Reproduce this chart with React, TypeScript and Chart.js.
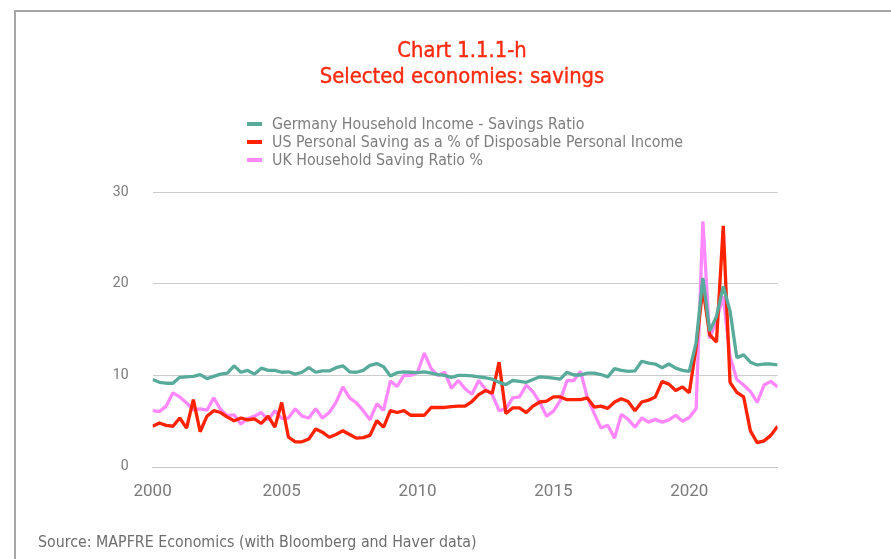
import React, { useEffect, useRef } from 'react';
import { Chart, registerables } from 'chart.js';

Chart.register(...registerables);

// ---------- DATA ----------
const titleLines = ['Chart 1.1.1-h', 'Selected economies: savings'];
const sourceText = 'Source: MAPFRE Economics (with Bloomberg and Haver data)';
const seriesNames = [
  'Germany Household Income - Savings Ratio',
  'US Personal Saving as a % of Disposable Personal Income',
  'UK Household Saving Ratio %',
];
const seriesColors = ['#58ab9b', '#ff2200', '#ff88ff'];

// quarterly periods 2000 Q1 .. 2023 Q1 (quarter-end dates)
const firstYear = 2000;
const lastYear = 2023;
const lastQuarter = 1;
const periods: { year: number; q: number }[] = [];
for (let y = firstYear; y <= lastYear; y++) {
  for (let q = 1; q <= 4; q++) {
    if (y === lastYear && q > lastQuarter) break;
    periods.push({ year: y, q });
  }
}

const germany = [
  9.5, 9.2, 9.1, 9.1, 9.75, 9.8, 9.85, 10.05, 9.6, 9.85, 10.1, 10.2, 11.0, 10.3, 10.5, 10.1, 10.75, 10.5, 10.5, 10.3, 10.35, 10.1, 10.3, 10.8,
  10.3, 10.45, 10.45, 10.8, 11.0, 10.35, 10.3, 10.5, 11.05, 11.25, 10.9, 9.9, 10.25, 10.35, 10.3, 10.25, 10.35, 10.2, 10.05, 9.95, 9.75, 9.95, 9.95,
  9.9, 9.8, 9.7, 9.55, 9.2, 8.95, 9.4, 9.3, 9.2, 9.5, 9.8, 9.75, 9.65, 9.55, 10.3, 10.0, 10.0, 10.2, 10.2, 10.05, 9.8, 10.7, 10.5,
  10.4, 10.45, 11.5, 11.3, 11.2, 10.8, 11.2, 10.75, 10.5, 10.4, 13.5, 20.6, 14.8, 16.4, 19.7, 17.0, 11.9, 12.2, 11.4, 11.1, 11.2, 11.2, 11.1,
];

const us = [
  4.4, 4.75, 4.5, 4.4, 5.3, 4.2, 7.3, 3.8, 5.5, 6.1, 5.9, 5.4, 5.0, 5.3, 5.1, 5.2, 4.7, 5.5, 4.3, 7.0, 3.2, 2.7, 2.7, 3.0,
  4.1, 3.75, 3.2, 3.5, 3.9, 3.5, 3.1, 3.15, 3.4, 5.0, 4.3, 6.1, 5.9, 6.1, 5.6, 5.6, 5.6, 6.45, 6.45, 6.45, 6.55, 6.6, 6.6,
  7.1, 7.85, 8.3, 8.0, 11.4, 5.8, 6.4, 6.4, 5.9, 6.6, 7.05, 7.15, 7.6, 7.6, 7.3, 7.3, 7.3, 7.5, 6.5, 6.6, 6.35, 7.05, 7.4,
  7.1, 6.1, 7.05, 7.25, 7.6, 9.3, 9.0, 8.3, 8.7, 8.05, 13.0, 19.5, 14.4, 13.6, 26.3, 9.2, 8.1, 7.6, 3.9, 2.6, 2.8, 3.4, 4.4,
];

const uk = [
  6.1, 6.0, 6.6, 8.05, 7.6, 6.95, 6.2, 6.3, 6.15, 7.5, 6.25, 5.55, 5.65, 4.65, 5.25, 5.5, 5.9, 5.1, 6.1, 5.25, 5.3, 6.3, 5.5, 5.3,
  6.3, 5.3, 5.9, 7.0, 8.7, 7.5, 6.95, 6.1, 5.1, 6.85, 6.15, 9.35, 8.75, 9.95, 9.95, 10.3, 12.4, 10.7, 9.95, 10.3, 8.55, 9.4, 8.5,
  7.9, 9.4, 8.45, 7.85, 6.1, 6.3, 7.5, 7.6, 8.9, 8.15, 7.0, 5.5, 6.05, 7.2, 9.4, 9.4, 10.4, 7.5, 5.8, 4.2, 4.5, 3.1, 5.7,
  5.15, 4.3, 5.3, 4.85, 5.15, 4.85, 5.1, 5.6, 4.95, 5.35, 6.3, 26.8, 14.0, 16.0, 18.6, 12.0, 9.5, 8.9, 8.2, 7.0, 8.9, 9.3, 8.7,
];

const xTickYears = [2000, 2005, 2010, 2015, 2020];
const yTicks = [0, 10, 20, 30];

// ---------- CHART ----------
const W = 891;
const H = 559;
const TEXT_FONT = '"DejaVu Sans Condensed", "DejaVu Sans", sans-serif';
const AXIS_FONT = 'Roboto, "DejaVu Sans", sans-serif';

const xValues = periods.map((p) => p.year + p.q / 4);
const xMin = xValues[0];
const xMax = xValues[xValues.length - 1];

const zeroLinePlugin = {
  id: 'zeroLine',
  beforeDatasetsDraw(chart: any) {
    const { ctx, chartArea, scales } = chart;
    const y = Math.round(scales.y.getPixelForValue(yTicks[0])) + 0.5;
    ctx.save();
    ctx.strokeStyle = '#8c8c8c';
    ctx.lineWidth = 1;
    ctx.setLineDash([1, 1]);
    ctx.beginPath();
    ctx.moveTo(chartArea.left, y);
    ctx.lineTo(chartArea.right, y);
    ctx.stroke();
    ctx.restore();
  },
};

function SavingsChart() {
  const ref = useRef<HTMLCanvasElement | null>(null);
  useEffect(() => {
    if (!ref.current) return;
    const series = [germany, us, uk];
    const chart = new Chart(ref.current, {
      type: 'line',
      data: {
        datasets: series.map((vals, i) => ({
          label: seriesNames[i],
          data: vals.map((v, j) => ({ x: xValues[j], y: v })),
          borderColor: seriesColors[i],
          backgroundColor: seriesColors[i],
          borderWidth: 3.3,
          pointRadius: 0,
          tension: 0,
          borderJoinStyle: 'bevel' as const,
          fill: false,
        })),
      },
      options: {
        animation: false,
        responsive: false,
        devicePixelRatio: 1,
        layout: { padding: { left: 100, right: 113.4, top: 192, bottom: 40 } },
        plugins: {
          legend: { display: false },
          title: { display: false },
          tooltip: { enabled: false },
        },
        scales: {
          x: {
            type: 'linear',
            min: xMin,
            max: xMax,
            grid: { display: false },
            border: { display: false },
            afterBuildTicks: (scale: any) => {
              scale.ticks = xTickYears.map((y) => ({ value: Math.max(y, xMin) }));
            },
            afterFit: (scale: any) => {
              scale.height = 52.5;
            },
            ticks: {
              autoSkip: false,
              maxRotation: 0,
              minRotation: 0,
              padding: 7,
              color: '#7a7a7a',
              font: { family: AXIS_FONT, size: 17 },
              callback: (v: any) => String(Math.floor(Number(v))),
            },
          },
          y: {
            min: yTicks[0],
            max: yTicks[yTicks.length - 1],
            afterBuildTicks: (scale: any) => {
              scale.ticks = yTicks.map((v) => ({ value: v }));
            },
            afterFit: (scale: any) => {
              scale.width = 52.6;
            },
            ticks: {
              padding: 24,
              color: '#7a7a7a',
              font: { family: AXIS_FONT, size: 14 },
            },
            grid: {
              color: (c: any) => (c.tick && c.tick.value === 0 ? 'rgba(0,0,0,0)' : '#cccccc'),
              lineWidth: 1,
              drawTicks: false,
              tickLength: 0,
            },
            border: { display: false },
          },
        },
      },
      plugins: [zeroLinePlugin],
    } as any);
    return () => chart.destroy();
  }, []);
  return (
    <canvas
      ref={ref}
      width={W}
      height={H}
      style={{ position: 'absolute', left: 0, top: 0, width: W, height: H, display: 'block' }}
    />
  );
}

export default function App() {
  const legendRows = [123.5, 141.8, 160];
  return (
    <div
      style={{
        position: 'fixed',
        left: 0,
        top: 0,
        width: W,
        height: H,
        background: '#ffffff',
        overflow: 'hidden',
      }}
    >
      {/* frame */}
      <div
        style={{
          position: 'absolute',
          left: 14,
          top: 10,
          width: W,
          height: H,
          borderTop: '2px solid #a6a6a6',
          borderLeft: '2px solid #a6a6a6',
        }}
      />
      <SavingsChart />
      {/* title */}
      {titleLines.map((t, i) => (
        <div
          key={t}
          style={{
            position: 'absolute',
            left: 262,
            width: 400,
            top: (i === 0 ? 50 : 76) - 13,
            height: 26,
            lineHeight: '26px',
            textAlign: 'center',
            color: '#ff2a10',
            fontFamily: TEXT_FONT,
            fontSize: 21.8,
            WebkitTextStroke: '0.4px #ff2a10',
            whiteSpace: 'nowrap',
          }}
        >
          {t}
        </div>
      ))}
      {/* legend */}
      {seriesNames.map((n, i) => (
        <React.Fragment key={n}>
          <div
            style={{
              position: 'absolute',
              left: 247,
              top: legendRows[i] - 2,
              width: 15,
              height: 4,
              background: seriesColors[i],
            }}
          />
          <div
            style={{
              position: 'absolute',
              left: 272,
              top: legendRows[i] - 10,
              height: 20,
              lineHeight: '20px',
              color: '#7d7d7d',
              fontFamily: TEXT_FONT,
              fontSize: 15.8,
              whiteSpace: 'nowrap',
            }}
          >
            {n}
          </div>
        </React.Fragment>
      ))}
      {/* source */}
      <div
        style={{
          position: 'absolute',
          left: 38,
          top: 542 - 10,
          height: 20,
          lineHeight: '20px',
          color: '#6e6e6e',
          fontFamily: TEXT_FONT,
          fontSize: 15.8,
          whiteSpace: 'nowrap',
        }}
      >
        {sourceText}
      </div>
    </div>
  );
}
